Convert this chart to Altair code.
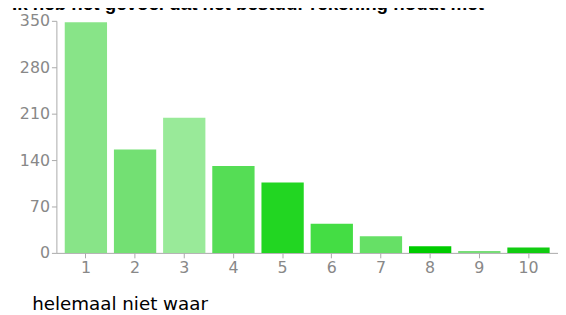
import altair as alt
import pandas as pd

scores = [1, 2, 3, 4, 5, 6, 7, 8, 9, 10]
counts = [348, 156, 204, 131, 106, 44, 25, 10, 3, 8]
colors = ["#88e488", "#73e073", "#99ea99", "#55dd55", "#22d622",
          "#44dd44", "#66e066", "#00cc00", "#77dd77", "#11cc11"]
y_ticks = [0, 70, 140, 210, 280, 350]
title_text = "Ik heb het gevoel dat het bestuur rekening houdt met"
x_title = "helemaal niet waar"

df = pd.DataFrame({"score": scores, "count": counts, "color": colors})

FONT = "DejaVu Sans"

bars = alt.Chart(df).mark_bar().encode(
    x=alt.X("score:O",
            scale=alt.Scale(paddingInner=0.14, paddingOuter=0.17),
            axis=alt.Axis(title=x_title, labelAngle=0, labelFont=FONT, labelFontSize=16,
                          labelColor="#888888", labelPadding=2, tickSize=5,
                          tickColor="#aaaaaa", domainColor="#aaaaaa",
                          titleFont=FONT, titleFontSize=18.5, titleFontWeight="normal",
                          titleColor="#000000", titleAlign="left", titleBaseline="alphabetic",
                          titleX=-25, titleY=57)),
    y=alt.Y("count:Q",
            scale=alt.Scale(domain=[0, 350], nice=False),
            axis=alt.Axis(title=None, values=y_ticks, grid=False, labelFont=FONT,
                          labelFontSize=16, labelColor="#888888", labelPadding=2,
                          tickSize=5, tickColor="#aaaaaa", domainColor="#aaaaaa")),
    color=alt.Color("color:N", scale=None),
)

title = alt.Chart(pd.DataFrame({"t": [title_text]})).mark_text(
    font="Liberation Sans", fontSize=19, fontWeight="bold", color="#000000",
    align="left", baseline="alphabetic"
).encode(text="t:N", x=alt.value(-45), y=alt.value(-11))

chart = alt.layer(bars, title).properties(
    width=508, height=235,
    autosize=alt.AutoSizeParams(type="none"),
    padding={"left": 49, "top": 11, "right": 0, "bottom": 70},
    background="white",
).configure_view(stroke=None)

chart.save("out.html", embed_options={"renderer": "svg", "actions": False})
